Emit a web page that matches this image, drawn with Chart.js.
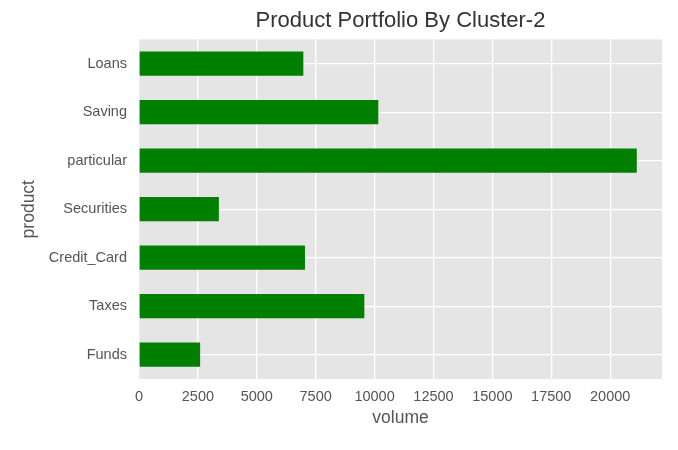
<!DOCTYPE html>
<html>
<head>
<meta charset="utf-8">
<script src="https://cdn.jsdelivr.net/npm/chart.js@4"></script>
<style>
html,body{margin:0;padding:0;background:#fff;}
#wrap{width:678px;height:450px;position:relative;}
</style>
</head>
<body>
<div id="wrap"><canvas id="c" width="678" height="450"></canvas></div>
<script>
const categories = ["Loans", "Saving", "particular", "Securities", "Credit_Card", "Taxes", "Funds"];
const volumes = [6975, 10157, 21130, 3390, 7045, 9565, 2595];
const xTicks = [0, 2500, 5000, 7500, 10000, 12500, 15000, 17500, 20000];

const FONT = "'Liberation Sans', Arial, Helvetica, sans-serif";

const bgPlugin = {
  id: 'plotBg',
  beforeDraw(chart) {
    const {ctx, chartArea: a} = chart;
    ctx.save();
    ctx.fillStyle = '#E5E5E5';
    ctx.fillRect(a.left, a.top, a.right - a.left, a.bottom - a.top);
    ctx.restore();
  }
};

new Chart(document.getElementById('c'), {
  type: 'bar',
  data: {
    labels: categories,
    datasets: [{
      data: volumes,
      backgroundColor: '#008000',
      borderWidth: 0,
      barPercentage: 0.5,
      categoryPercentage: 1.0
    }]
  },
  options: {
    indexAxis: 'y',
    responsive: false,
    animation: false,
    layout: { padding: { left: 0, right: 16, top: 0, bottom: 0 } },
    plugins: {
      legend: { display: false },
      tooltip: { enabled: false },
      title: {
        display: true,
        fullSize: false,
        text: 'Product Portfolio By Cluster-2',
        color: '#333333',
        font: { family: FONT, size: 22, weight: 'normal' },
        padding: { top: 8, bottom: 5 }
      }
    },
    scales: {
      x: {
        min: 0,
        max: 22200,
        afterBuildTicks(scale) { scale.ticks = xTicks.map(v => ({ value: v })); },
        afterFit(scale) { scale.height = 71; },
        grid: { color: '#FFFFFF', lineWidth: 1.3, drawTicks: false },
        border: { display: false },
        ticks: {
          color: '#555555',
          font: { family: FONT, size: 14.5 },
          padding: 9,
          maxRotation: 0,
          autoSkip: false,
          callback: (v) => String(v)
        },
        title: {
          display: true,
          text: 'volume',
          color: '#555555',
          font: { family: FONT, size: 17.5 },
          padding: 21
        }
      },
      y: {
        afterFit(scale) { scale.width = 139; },
        grid: { color: '#FFFFFF', lineWidth: 1.3, drawTicks: false, offset: false },
        border: { display: false },
        ticks: {
          color: '#555555',
          font: { family: FONT, size: 14.5 },
          padding: 12
        },
        title: {
          display: true,
          text: 'product',
          color: '#555555',
          font: { family: FONT, size: 17.5 },
          padding: 19
        }
      }
    }
  },
  plugins: [bgPlugin]
});
</script>
</body>
</html>
